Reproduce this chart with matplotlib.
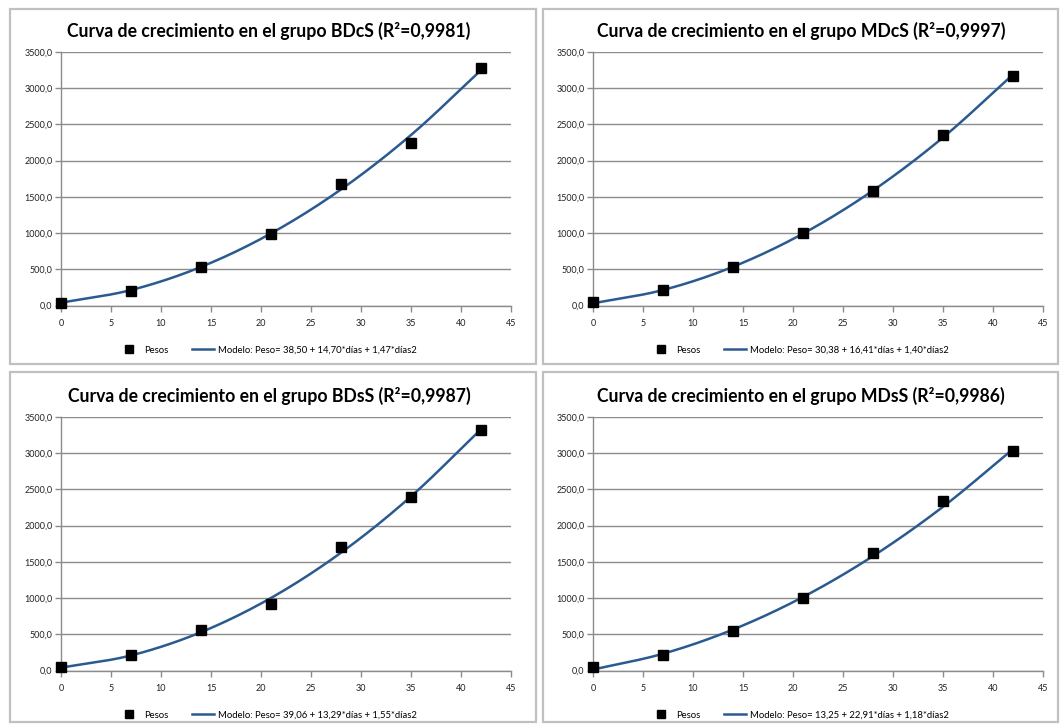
import numpy as np
import matplotlib
matplotlib.use("Agg")
import matplotlib.pyplot as plt
from matplotlib.patches import Rectangle
from matplotlib.ticker import FuncFormatter, MultipleLocator

plt.rcParams['font.family'] = ['Lato', 'DejaVu Sans']

dias = [0, 7, 14, 21, 28, 35, 42]

grupos = ["BDcS", "MDcS", "BDsS", "MDsS"]
r2 = ["0,9981", "0,9997", "0,9987", "0,9986"]
modelos = [
    "Modelo: Peso= 38,50 + 14,70*días + 1,47*días2",
    "Modelo: Peso= 30,38 + 16,41*días + 1,40*días2",
    "Modelo: Peso= 39,06 + 13,29*días + 1,55*días2",
    "Modelo: Peso= 13,25 + 22,91*días + 1,18*días2",
]

pesos_BDcS = [41, 202, 534, 989, 1679, 2249, 3280]
pesos_MDcS = [46, 211, 532, 1000, 1584, 2360, 3172]
pesos_BDsS = [51, 216, 561, 925, 1707, 2401, 3326]
pesos_MDsS = [51, 216, 552, 998, 1628, 2341, 3027]

modelo_BDcS = [38.5, 213.4, 532.4, 995.5, 1602.6, 2353.8, 3249.0]
modelo_MDcS = [30.4, 213.9, 534.5, 992.4, 1587.5, 2319.7, 3189.2]
modelo_BDsS = [39.1, 208.0, 528.9, 1001.7, 1626.4, 2403.0, 3331.4]
modelo_MDsS = [13.3, 231.4, 565.3, 1014.7, 1579.9, 2260.6, 3057.0]

pesos = [pesos_BDcS, pesos_MDcS, pesos_BDsS, pesos_MDsS]
modelo = [modelo_BDcS, modelo_MDcS, modelo_BDsS, modelo_MDsS]


def smooth(x, y, n=30):
    # Catmull-Rom style smoothing (like a spreadsheet "smoothed line")
    x = np.asarray(x, float)
    y = np.asarray(y, float)
    px = np.concatenate([[2 * x[0] - x[1]], x, [2 * x[-1] - x[-2]]])
    py = np.concatenate([[2 * y[0] - y[1]], y, [2 * y[-1] - y[-2]]])
    xs, ys = [], []
    for i in range(1, len(px) - 2):
        t = np.linspace(0, 1, n, endpoint=False)
        for arr, out in ((px, xs), (py, ys)):
            p0, p1, p2, p3 = arr[i - 1], arr[i], arr[i + 1], arr[i + 2]
            m1 = (p2 - p0) / 2
            m2 = (p3 - p1) / 2
            h00 = 2 * t**3 - 3 * t**2 + 1
            h10 = t**3 - 2 * t**2 + t
            h01 = -2 * t**3 + 3 * t**2
            h11 = t**3 - t**2
            out.extend(h00 * p1 + h10 * m1 + h01 * p2 + h11 * m2)
    xs.append(x[-1])
    ys.append(y[-1])
    return np.array(xs), np.array(ys)


W, H = 1061, 725
fig = plt.figure(figsize=(W / 100, H / 100), dpi=100)

boxes = [(10, 9, 536, 364), (543, 9, 1058, 364), (10, 372, 536, 722), (543, 372, 1058, 722)]
offsets = [(0, 0), (532, 0), (0, 365), (532, 365)]

fmt = FuncFormatter(lambda v, p: f"{v:.1f}".replace(".", ","))
grid_c = "#8c8c8c"

for i in range(4):
    x0, y0, x1, y1 = boxes[i]
    fig.patches.append(Rectangle((x0 / W, 1 - y1 / H), (x1 - x0) / W, (y1 - y0) / H,
                                 transform=fig.transFigure, fill=False,
                                 edgecolor="#c0c0c0", linewidth=1.6))
    dx, dy = offsets[i]
    left, right = 61 + dx, 511 + dx
    top, bottom = 52 + dy, 305.5 + dy
    ax = fig.add_axes([left / W, 1 - bottom / H, (right - left) / W, (bottom - top) / H])
    ax.set_xlim(0, 45)
    ax.set_ylim(0, 3500)
    ax.xaxis.set_major_locator(MultipleLocator(5))
    ax.yaxis.set_major_locator(MultipleLocator(500))
    ax.yaxis.set_major_formatter(fmt)
    ax.grid(axis="y", color=grid_c, linewidth=1)
    ax.set_axisbelow(True)
    for s in ["top", "right"]:
        ax.spines[s].set_visible(False)
    for s in ["left", "bottom"]:
        ax.spines[s].set_color(grid_c)
        ax.spines[s].set_linewidth(1)
    ax.tick_params(axis="both", colors=grid_c, labelcolor="#222222", labelsize=6.5,
                   length=4, width=1, direction="out")
    ax.tick_params(axis="x", pad=6)
    ax.tick_params(axis="y", pad=2)

    sx, sy = smooth(dias, modelo[i])
    ln, = ax.plot(sx, sy, color="#2a5a8f", linewidth=1.8, zorder=3, label=modelos[i])
    pt, = ax.plot(dias, pesos[i], linestyle="none", marker="s", markersize=7,
                  color="black", zorder=4, clip_on=False, label="Pesos")

    ax.set_title(f"Curva de crecimiento en el grupo {grupos[i]} (R²={r2[i]})",
                 fontsize=12.7, fontweight="bold", pad=11, color="black", x=0.462)

    ax.legend(handles=[pt, ln], loc="center", bbox_to_anchor=(0.458, -0.176),
              ncol=2, frameon=False, fontsize=6.8, handlelength=2.4,
              handletextpad=0.4, columnspacing=2.5, markerscale=0.75)

fig.savefig("out.png", dpi=100)
